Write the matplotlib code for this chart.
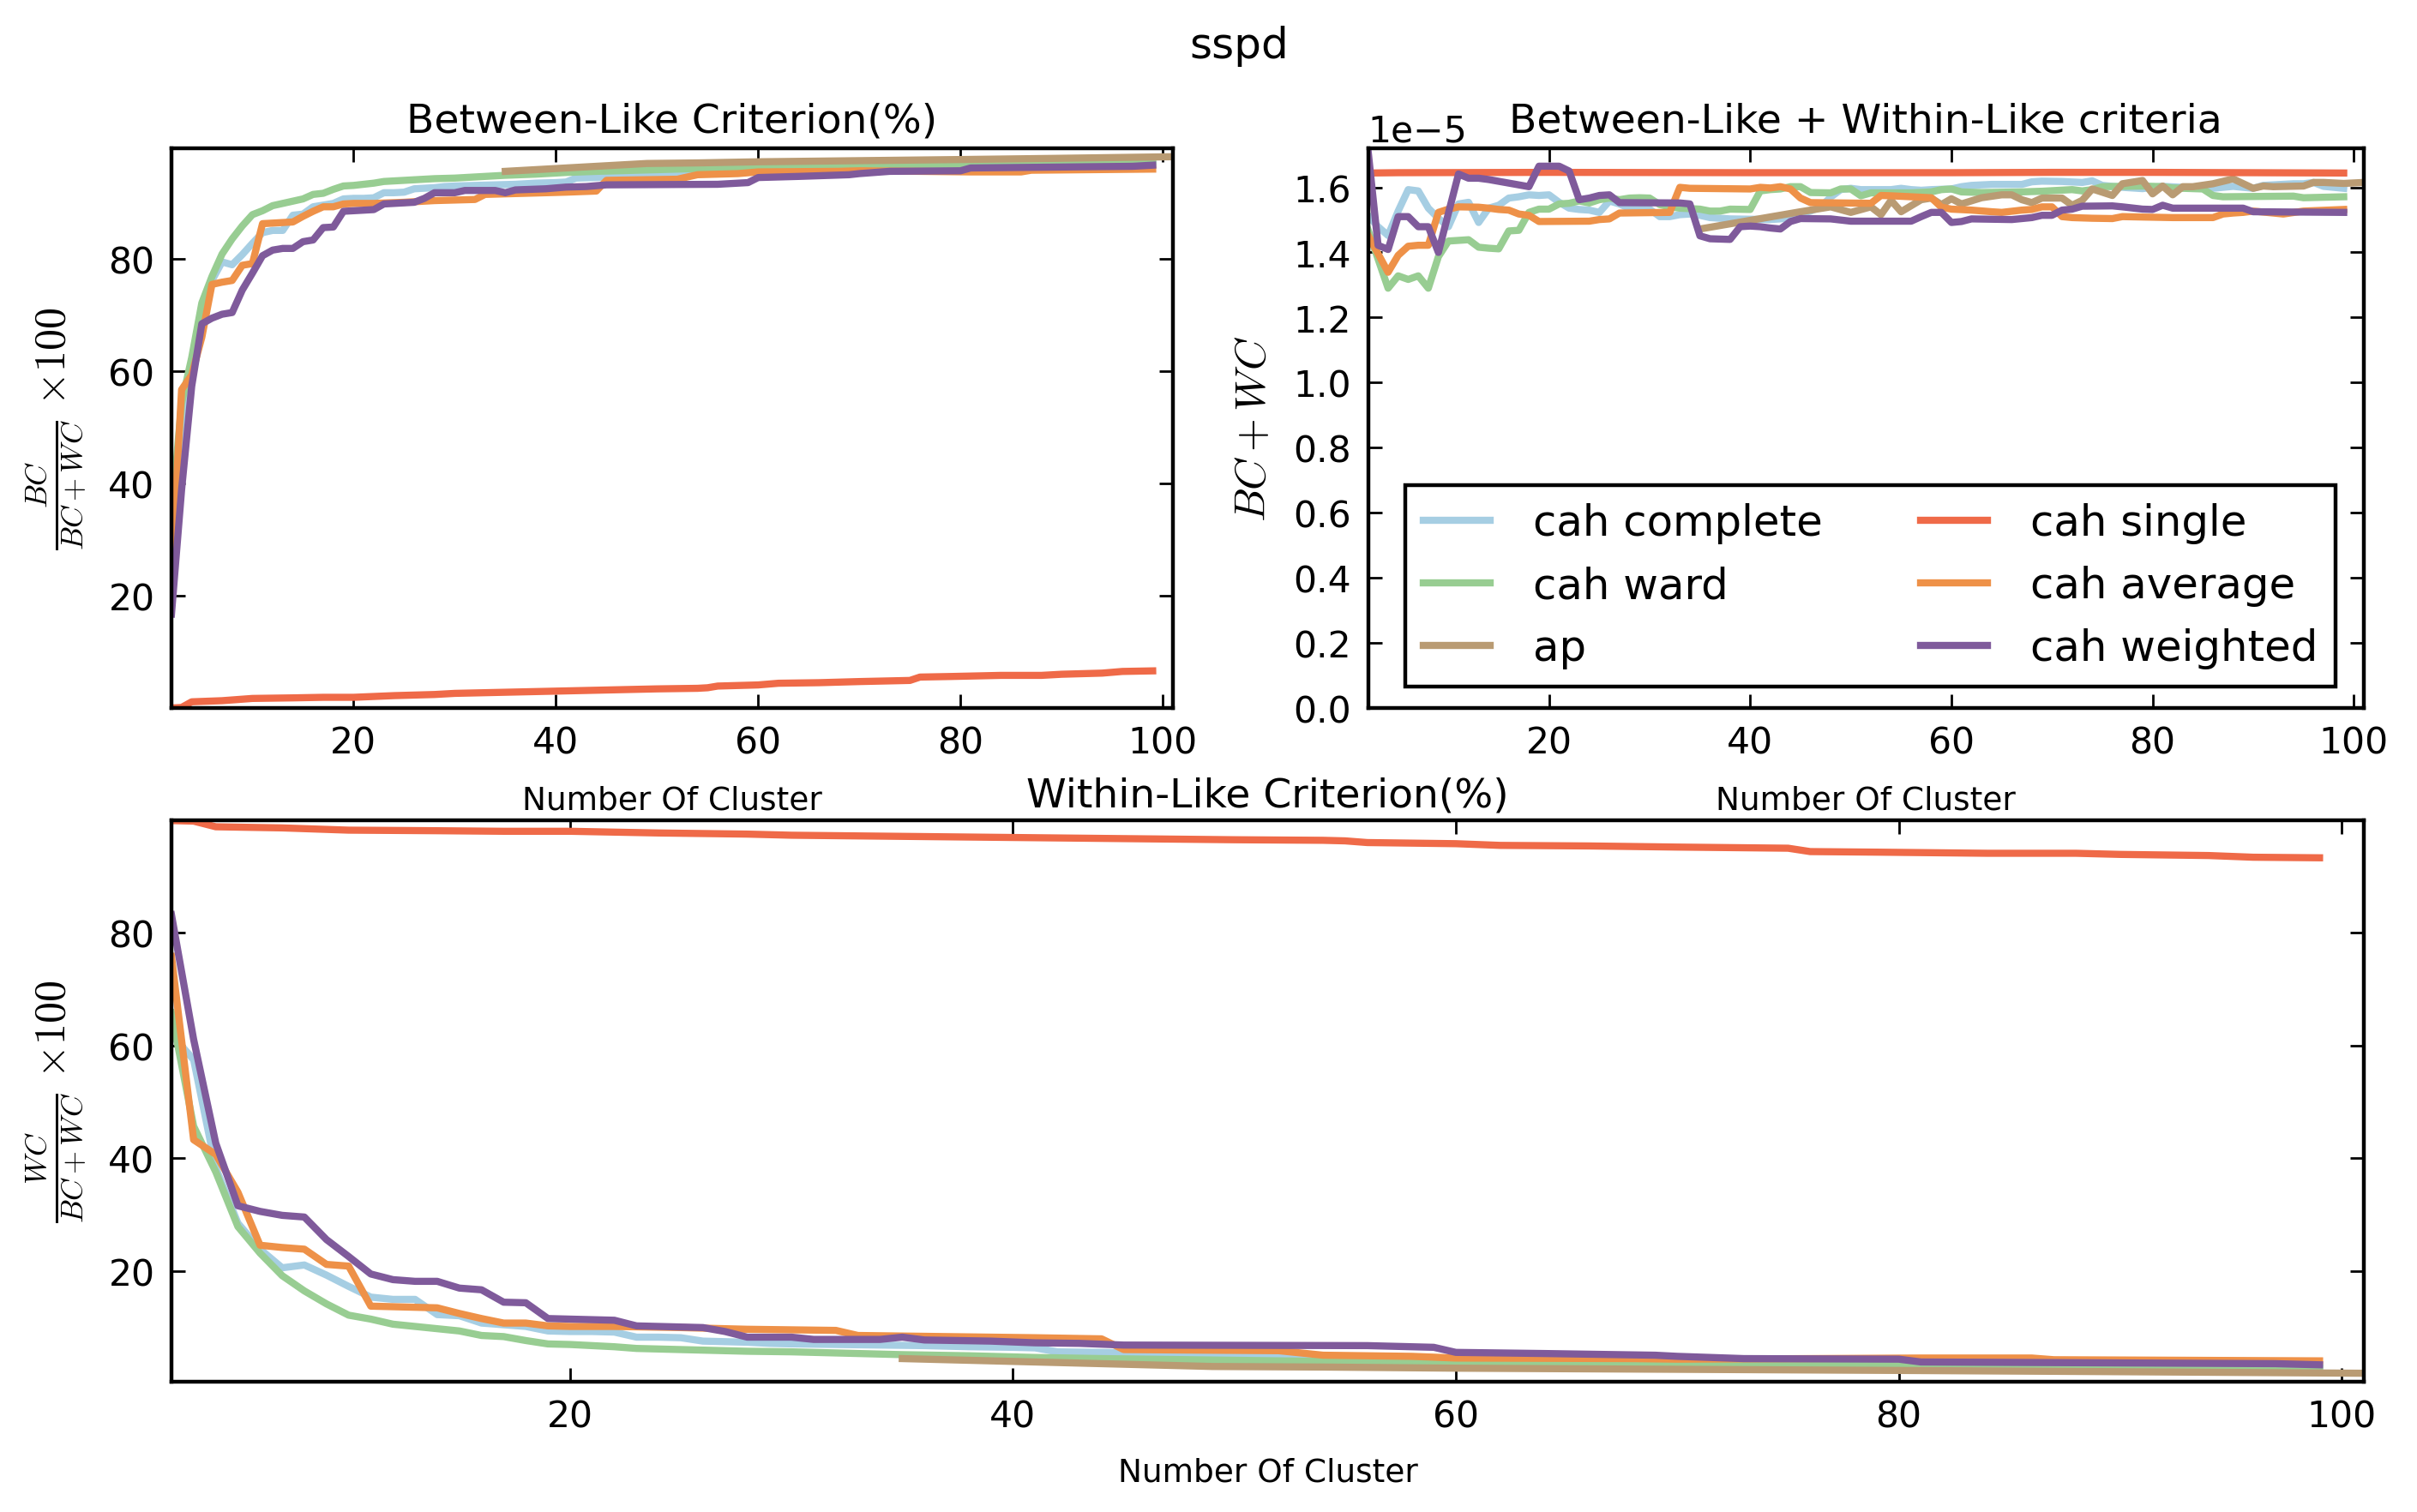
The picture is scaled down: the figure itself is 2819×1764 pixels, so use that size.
import matplotlib
matplotlib.use('Agg')
import matplotlib.pyplot as plt

plt.rcParams['font.family'] = ['DejaVu Sans']
plt.rcParams['mathtext.fontset'] = 'cm'

# ---------------- data ----------------
labels = ['cah complete', 'cah ward', 'ap', 'cah single', 'cah average', 'cah weighted']
colors = ['#a6cee3', '#98cd92', '#b99b73', '#ef6a48', '#ee9148', '#7f5a9b']

# Within-like criterion (%) : (number of clusters, WC/(BC+WC)*100)
complete_within = [(2, 62.0), (3, 57.5), (4, 38.3), (5, 28.5), (6, 23.9), (7, 20.6), (8, 21.1),
                   (9, 19.3), (10, 17.3), (11, 15.4), (12, 15.0), (13, 15.0), (14, 12.3), (15, 12.1),
                   (16, 10.8), (17, 10.5), (18, 10.2), (19, 9.4), (20, 9.3), (21, 9.3), (22, 9.2),
                   (23, 8.3), (24, 8.3), (25, 8.2), (26, 7.6), (27, 7.5), (28, 7.4), (29, 7.2),
                   (30, 7.1), (32, 7.0), (34, 6.9), (36, 6.8), (38, 6.6), (40, 6.5), (41, 6.4),
                   (42, 5.7), (44, 5.6), (46, 5.5), (48, 5.3), (50, 5.2), (52, 5.1), (55, 4.9),
                   (58, 4.6), (60, 4.5), (62, 4.4), (66, 4.2), (70, 4.1), (74, 3.9), (78, 3.7),
                   (80, 3.6), (81, 3.2), (85, 3.1), (90, 3.0), (95, 2.9), (99, 2.8)]
ward_within = [(2, 65.8), (3, 45.7), (4, 37.6), (5, 27.9), (6, 23.2), (7, 19.2), (8, 16.5),
               (9, 14.2), (10, 12.2), (11, 11.5), (12, 10.6), (13, 10.2), (14, 9.8), (15, 9.4),
               (16, 8.6), (17, 8.4), (18, 7.7), (19, 7.1), (20, 7.0), (21, 6.8), (22, 6.6),
               (23, 6.3), (24, 6.2), (25, 6.1), (26, 6.0), (27, 5.9), (28, 5.8), (30, 5.7),
               (32, 5.5), (35, 5.2), (38, 5.0), (41, 4.7), (44, 4.5), (46, 4.4), (50, 4.2),
               (56, 3.9), (60, 3.8), (65, 3.6), (70, 3.5), (75, 3.4), (80, 3.3), (82, 3.0),
               (90, 2.9), (99, 2.8)]
ap_within = [(35, 4.5), (38, 4.2), (41, 3.9), (45, 3.5), (49, 3.1), (54, 3.0), (60, 2.8),
             (70, 2.6), (80, 2.4), (89, 2.2), (101, 1.9)]
single_within = [(2, 99.9), (3, 99.8), (4, 98.8), (7, 98.6), (10, 98.2), (14, 98.1), (17, 98.0),
                 (20, 98.0), (24, 97.7), (28, 97.5), (30, 97.3), (35, 97.1), (40, 96.9),
                 (45, 96.7), (50, 96.5), (54, 96.4), (55, 96.3), (56, 96.0), (58, 95.9),
                 (60, 95.8), (62, 95.5), (66, 95.4), (70, 95.2), (75, 95.0), (76, 94.4),
                 (79, 94.3), (84, 94.1), (88, 94.1), (90, 93.9), (94, 93.7), (96, 93.4), (99, 93.3)]
average_within = [(2, 75.8), (3, 43.3), (4, 40.7), (5, 34.0), (6, 24.6), (7, 24.2), (8, 23.9),
                  (9, 21.2), (10, 20.9), (11, 13.8), (12, 13.7), (13, 13.6), (14, 13.5),
                  (15, 12.5), (16, 11.6), (17, 10.8), (18, 10.8), (19, 10.3), (20, 10.2),
                  (22, 10.2), (25, 10.0), (28, 9.7), (32, 9.5), (33, 8.6), (37, 8.4), (41, 8.2),
                  (44, 8.0), (45, 6.1), (52, 5.9), (54, 5.1), (58, 4.9), (60, 4.6), (68, 4.5),
                  (70, 4.4), (76, 4.5), (81, 4.6), (86, 4.6), (87, 4.3), (99, 4.1)]
weighted_within = [(2, 83.2), (3, 61.1), (4, 42.7), (5, 31.6), (6, 30.6), (7, 29.9), (8, 29.6),
                   (9, 25.6), (10, 22.6), (11, 19.5), (12, 18.5), (13, 18.2), (14, 18.2),
                   (15, 17.0), (16, 16.7), (17, 14.5), (18, 14.4), (19, 11.6), (20, 11.5),
                   (21, 11.4), (22, 11.3), (23, 10.3), (24, 10.2), (25, 10.1), (26, 10.0),
                   (27, 9.3), (28, 8.3), (30, 8.3), (31, 7.9), (34, 7.9), (35, 8.3), (36, 7.8),
                   (39, 7.6), (41, 7.3), (43, 7.2), (45, 6.9), (56, 6.8), (59, 6.5), (60, 5.6),
                   (64, 5.4), (69, 5.1), (70, 4.9), (73, 4.5), (80, 4.4), (81, 3.9), (97, 3.6),
                   (99, 3.4)]

# BC + WC (in units of 1e-5)
complete_sum = [(2, 1.514), (3, 1.479), (4, 1.452), (5, 1.527), (6, 1.593), (7, 1.589), (8, 1.536),
                (9, 1.505), (10, 1.479), (11, 1.549), (12, 1.554), (13, 1.492), (14, 1.536),
                (15, 1.545), (16, 1.567), (17, 1.571), (18, 1.577), (19, 1.575), (20, 1.577),
                (21, 1.554), (22, 1.536), (23, 1.532), (24, 1.530), (25, 1.523), (26, 1.558),
                (27, 1.549), (28, 1.535), (30, 1.533), (31, 1.510), (32, 1.510), (33, 1.516),
                (34, 1.518), (35, 1.514), (36, 1.507), (38, 1.503), (42, 1.501), (43, 1.503),
                (44, 1.508), (45, 1.520), (46, 1.527), (47, 1.540), (48, 1.570), (49, 1.593),
                (50, 1.597), (51, 1.593), (54, 1.593), (55, 1.597), (56, 1.593), (57, 1.591),
                (58, 1.593), (60, 1.595), (61, 1.602), (62, 1.606), (64, 1.609), (67, 1.609),
                (68, 1.617), (69, 1.619), (71, 1.618), (73, 1.615), (74, 1.620), (75, 1.606),
                (77, 1.600), (79, 1.596), (80, 1.600), (81, 1.603), (83, 1.600), (86, 1.597),
                (88, 1.603), (89, 1.600), (90, 1.597), (91, 1.606), (94, 1.611), (95, 1.611),
                (96, 1.615), (97, 1.603), (99, 1.597)]
ward_sum = [(2, 1.470), (3, 1.380), (4, 1.290), (5, 1.328), (6, 1.317), (7, 1.328), (8, 1.290),
            (9, 1.387), (10, 1.435), (11, 1.437), (12, 1.439), (13, 1.416), (14, 1.413),
            (15, 1.411), (16, 1.466), (17, 1.468), (18, 1.523), (19, 1.533), (20, 1.533),
            (21, 1.549), (22, 1.551), (23, 1.558), (24, 1.552), (25, 1.562), (26, 1.567),
            (27, 1.562), (28, 1.567), (29, 1.568), (30, 1.567), (31, 1.547), (32, 1.540),
            (33, 1.536), (35, 1.533), (36, 1.527), (37, 1.527), (38, 1.533), (40, 1.532),
            (41, 1.589), (42, 1.593), (43, 1.595), (44, 1.602), (45, 1.602), (46, 1.584),
            (48, 1.583), (49, 1.595), (50, 1.595), (51, 1.574), (52, 1.583), (56, 1.583),
            (58, 1.586), (59, 1.593), (60, 1.595), (61, 1.586), (63, 1.584), (67, 1.586),
            (69, 1.588), (72, 1.593), (73, 1.589), (74, 1.593), (75, 1.602), (79, 1.604),
            (81, 1.602), (82, 1.598), (85, 1.595), (86, 1.575), (87, 1.571), (94, 1.573),
            (95, 1.568), (99, 1.571)]
ap_sum = [(35, 1.472), (45, 1.525), (48, 1.540), (50, 1.523), (52, 1.540), (53, 1.516),
          (54, 1.560), (55, 1.525), (57, 1.562), (58, 1.567), (59, 1.547), (60, 1.565),
          (61, 1.549), (63, 1.568), (65, 1.577), (66, 1.577), (67, 1.562), (68, 1.553),
          (69, 1.567), (71, 1.567), (72, 1.545), (73, 1.560), (74, 1.595), (76, 1.575),
          (77, 1.611), (79, 1.621), (80, 1.580), (81, 1.604), (82, 1.577), (83, 1.602),
          (84, 1.602), (86, 1.611), (88, 1.626), (90, 1.597), (91, 1.604), (92, 1.602),
          (95, 1.604), (96, 1.615), (97, 1.615), (99, 1.612), (101, 1.615)]
single_sum = [(2, 1.644), (5, 1.645), (20, 1.646), (40, 1.645), (60, 1.645), (70, 1.646),
              (80, 1.646), (90, 1.645), (99, 1.644)]
average_sum = [(2, 1.453), (3, 1.396), (4, 1.339), (5, 1.391), (6, 1.419), (7, 1.422), (8, 1.422),
               (9, 1.523), (10, 1.533), (11, 1.540), (13, 1.539), (14, 1.536), (15, 1.532),
               (16, 1.530), (17, 1.518), (18, 1.514), (19, 1.495), (24, 1.496), (25, 1.501),
               (26, 1.503), (27, 1.521), (32, 1.523), (33, 1.600), (34, 1.597), (40, 1.595),
               (41, 1.600), (42, 1.598), (43, 1.602), (44, 1.595), (45, 1.567), (46, 1.553),
               (52, 1.551), (53, 1.575), (54, 1.574), (56, 1.571), (58, 1.568), (59, 1.539),
               (60, 1.533), (62, 1.530), (64, 1.525), (65, 1.523), (67, 1.530), (68, 1.532),
               (69, 1.540), (70, 1.540), (71, 1.510), (72, 1.507), (74, 1.505), (76, 1.504),
               (77, 1.510), (82, 1.507), (86, 1.507), (87, 1.518), (88, 1.521), (89, 1.523),
               (90, 1.527), (93, 1.518), (95, 1.527), (99, 1.532)]
weighted_sum = [(2, 1.716), (3, 1.422), (4, 1.409), (5, 1.510), (6, 1.510), (7, 1.479), (8, 1.479),
                (9, 1.400), (10, 1.521), (11, 1.641), (12, 1.628), (13, 1.628), (14, 1.624),
                (18, 1.602), (19, 1.665), (21, 1.665), (22, 1.650), (23, 1.562), (24, 1.567),
                (25, 1.575), (26, 1.577), (27, 1.553), (33, 1.552), (34, 1.549), (35, 1.451),
                (36, 1.442), (38, 1.440), (39, 1.479), (40, 1.481), (41, 1.479), (42, 1.475),
                (43, 1.472), (44, 1.495), (45, 1.504), (48, 1.503), (50, 1.496), (56, 1.496),
                (57, 1.510), (58, 1.523), (59, 1.523), (60, 1.492), (61, 1.495), (62, 1.503),
                (66, 1.501), (68, 1.507), (69, 1.514), (70, 1.514), (71, 1.530), (72, 1.533),
                (73, 1.542), (76, 1.543), (77, 1.540), (79, 1.533), (80, 1.532), (81, 1.545),
                (82, 1.536), (89, 1.536), (90, 1.525), (99, 1.523)]

within_series = [complete_within, ward_within, ap_within, single_within, average_within, weighted_within]
sum_series = [complete_sum, ward_sum, ap_sum, single_sum, average_sum, weighted_sum]
SUM_SCALE = 1e-5

# ---------------- figure ----------------
W, H, DPI = 2819, 1765, 200
fig = plt.figure(figsize=(W / DPI, H / DPI), dpi=DPI)

def frac(l, t, r, b):
    return [l / W, 1 - b / H, (r - l) / W, (b - t) / H]

ax1 = fig.add_axes(frac(200, 174, 1368, 827))
ax2 = fig.add_axes(frac(1595.5, 174, 2757, 827))
ax3 = fig.add_axes(frac(200, 958, 2757, 1613))

LW = 3.0
for lab, col, wpts, spts in zip(labels, colors, within_series, sum_series):
    xw = [p[0] for p in wpts]
    vw = [p[1] for p in wpts]
    ax1.plot(xw, [100 - v for v in vw], color=col, lw=LW, label=lab)
    ax3.plot(xw, vw, color=col, lw=LW, label=lab)
    xs = [p[0] for p in spts]
    vs = [p[1] * SUM_SCALE for p in spts]
    ax2.plot(xs, vs, color=col, lw=LW, label=lab)

TICK_FS = 15.3
for ax in (ax1, ax2, ax3):
    ax.set_xlim(2, 101)
    ax.tick_params(direction='in', top=True, right=True, length=5.8, width=1.0,
                   labelsize=TICK_FS, pad=7)
    for s in ax.spines.values():
        s.set_linewidth(1.6)
    ax.set_xticks([20, 40, 60, 80, 100])

ax1.set_ylim(0.1, 99.6)
ax3.set_ylim(0.4, 99.95)
ax2.set_ylim(0, 1.72e-5)
ax1.set_yticks([20, 40, 60, 80])
ax3.set_yticks([20, 40, 60, 80])
ax2.set_yticks([i * 0.2e-5 for i in range(9)])
ax2.yaxis.get_offset_text().set_fontsize(TICK_FS)

TITLE_FS = 17
ax1.set_title('Between-Like Criterion(%)', fontsize=TITLE_FS, pad=7)
ax2.set_title('Between-Like + Within-Like criteria', fontsize=TITLE_FS, pad=7)
ax3.set_title('Within-Like Criterion(%)', fontsize=TITLE_FS, pad=6)

XL_FS = 13.5
ax1.set_xlabel('Number Of Cluster', fontsize=XL_FS, labelpad=10)
ax2.set_xlabel('Number Of Cluster', fontsize=XL_FS, labelpad=10)
ax3.set_xlabel('Number Of Cluster', fontsize=XL_FS, labelpad=9.5)

YL_FS = 18
ax1.set_ylabel(r'$\frac{BC}{BC+WC}\ {\times}100$', fontsize=YL_FS, labelpad=8)
ax3.set_ylabel(r'$\frac{WC}{BC+WC}\ {\times}100$', fontsize=YL_FS, labelpad=8)
ax2.set_ylabel(r'$BC+WC$', fontsize=YL_FS, labelpad=8)

leg = ax2.legend(loc='lower right', bbox_to_anchor=((2724 - 1595.5) / 1161.5, (827 - 802) / 653),
                 ncol=2, fontsize=17.9, handlelength=1.57,
                 handletextpad=1.0, columnspacing=2.3, labelspacing=0.5,
                 borderpad=0.42, borderaxespad=0.0, fancybox=False, framealpha=1)
leg.get_frame().set_edgecolor('black')
leg.get_frame().set_linewidth(1.6)

fig.text(1445 / W, 1 - 54 / H, 'sspd', fontsize=18, ha='center', va='center')

fig.savefig('out.png', dpi=DPI, facecolor='white')
